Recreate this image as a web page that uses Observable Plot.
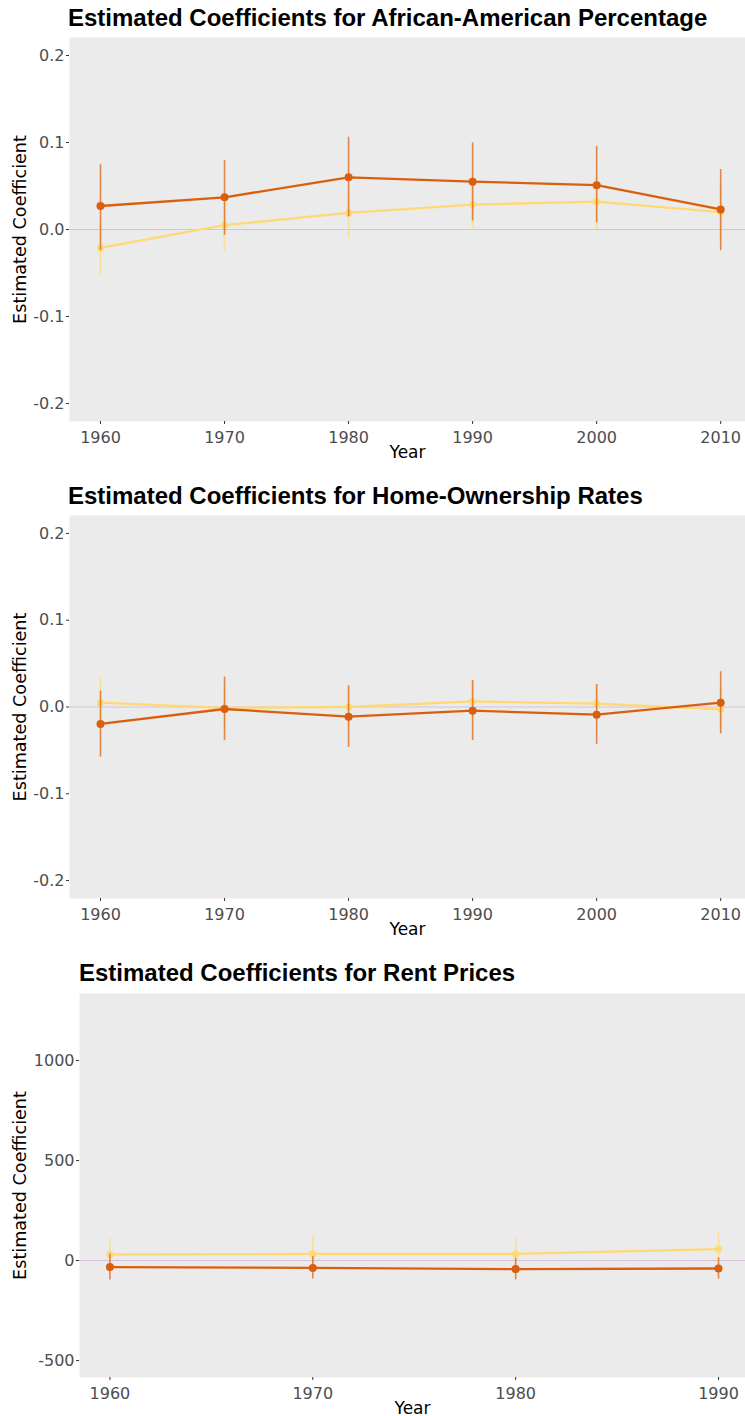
<!DOCTYPE html>
<html>
<head>
<meta charset="utf-8">
<script src="https://cdn.jsdelivr.net/npm/d3@7"></script>
<script src="https://cdn.jsdelivr.net/npm/@observablehq/plot@0.6"></script>
<style>
  html, body { margin: 0; padding: 0; background: #ffffff; font-family: "DejaVu Sans", sans-serif; }
  #wrap { width: 745px; }
  .title { font-family: "Liberation Sans", Arial, sans-serif; font-weight: bold; font-size: 24px; color: #000; box-sizing: border-box; white-space: nowrap; }
  svg { display: block; }
  svg, svg text { font-family: "DejaVu Sans", sans-serif !important; }
</style>
</head>
<body>
<div id="wrap"></div>
<script>
// ---------- data ----------
const years6 = [1960, 1970, 1980, 1990, 2000, 2010];
const years4 = [1960, 1970, 1980, 1990];

// Panel 1: African-American Percentage
const aaDarkEst  = [0.027, 0.037, 0.060, 0.055, 0.051, 0.023];
const aaDarkLo   = [-0.024, -0.0065, 0.0146, 0.0099, 0.0076, -0.0244];
const aaDarkHi   = [0.0744, 0.0794, 0.106, 0.0996, 0.0954, 0.069];
const aaLightEst = [-0.021, 0.005, 0.019, 0.0286, 0.032, 0.020];
const aaLightLo  = [-0.0527, -0.0244, -0.0095, -0.0008, 0.0, -0.010];
const aaLightHi  = [0.0107, 0.034, 0.0475, 0.058, 0.064, 0.050];

// Panel 2: Home-Ownership Rates
const hoDarkEst  = [-0.0195, -0.0023, -0.0111, -0.0042, -0.0088, 0.005];
const hoDarkLo   = [-0.0579, -0.0387, -0.0467, -0.0387, -0.043, -0.031];
const hoDarkHi   = [0.0184, 0.0345, 0.0245, 0.0307, 0.026, 0.0406];
const hoLightEst = [0.005, -0.001, 0.0, 0.0065, 0.0038, -0.0027];
const hoLightLo  = [-0.025, -0.026, -0.022, -0.0165, -0.018, -0.0277];
const hoLightHi  = [0.0349, 0.024, 0.022, 0.0295, 0.0258, 0.0223];

// Panel 3: Rent Prices
const rpDarkEst  = [-33, -37, -43, -40];
const rpDarkLo   = [-97, -93, -97, -93];
const rpDarkHi   = [31, 19, 11, 13];
const rpLightEst = [30, 33, 33, 57];
const rpLightLo  = [-48, -56, -47, -28];
const rpLightHi  = [108, 122, 113, 142];

const titles = [
  "Estimated Coefficients for African-American Percentage",
  "Estimated Coefficients for Home-Ownership Rates",
  "Estimated Coefficients for Rent Prices"
];
const yTicks12 = [-0.2, -0.1, 0, 0.1, 0.2];
const yTicks3 = [-500, 0, 500, 1000];

const DARK = "#D95F0E";
const LIGHT = "#FED976";

function rows(years, est, lo, hi) {
  return years.map((y, i) => ({year: y, est: est[i], lo: lo[i], hi: hi[i]}));
}

function panel({years, dark, light, xDomain, yDomain, yTicks, yFmt, marginLeft, height, marginBottom}) {
  const seriesMarks = (data, color, r) => [
    Plot.ruleX(data, {x: "year", y1: "lo", y2: "hi", stroke: color, strokeWidth: 1.6, strokeOpacity: 0.72}),
    Plot.line(data, {x: "year", y: "est", stroke: color, strokeWidth: 2.3}),
    Plot.dot(data, {x: "year", y: "est", fill: color, r: r})
  ];
  return Plot.plot({
    width: 745,
    height: height,
    marginTop: 0,
    marginRight: 0,
    marginLeft: marginLeft,
    marginBottom: marginBottom,
    style: {fontFamily: "'DejaVu Sans', sans-serif", background: "#ffffff", overflow: "visible"},
    x: {domain: xDomain},
    y: {domain: yDomain},
    marks: [
      Plot.frame({fill: "#EBEBEB", stroke: null}),
      Plot.ruleY([0], {stroke: "#D6C3DA", strokeWidth: 1.2}),
      ...seriesMarks(light, LIGHT, 3.6),
      ...seriesMarks(dark, DARK, 4),
      Plot.axisX({ticks: years, tickFormat: d => String(d), tickSize: 3, tickPadding: 7, fontSize: 16, fill: "#4D4D4D", stroke: "#333333", label: null}),
      Plot.axisY({ticks: yTicks, tickFormat: yFmt, tickSize: 3, tickPadding: 2, fontSize: 16, fill: "#4D4D4D", stroke: "#333333", label: null}),
      Plot.text(["Year"], {frameAnchor: "bottom", dy: 36, fontSize: 17, fill: "#000"}),
      Plot.text(["Estimated Coefficient"], {frameAnchor: "left", textAnchor: "middle", lineAnchor: "middle", dx: -(marginLeft - 20), rotate: -90, fontSize: 17.6, fill: "#000"})
    ]
  });
}

const wrap = document.getElementById("wrap");
function addTitle(text, h, pad, left) {
  const d = document.createElement("div");
  d.className = "title";
  d.style.height = h + "px";
  d.style.paddingTop = pad + "px";
  d.style.paddingLeft = left + "px";
  d.style.lineHeight = "26px";
  d.textContent = text;
  wrap.appendChild(d);
}

addTitle(titles[0], 37, 5, 68);
wrap.appendChild(panel({
  years: years6,
  dark: rows(years6, aaDarkEst, aaDarkLo, aaDarkHi),
  light: rows(years6, aaLightEst, aaLightLo, aaLightHi),
  xDomain: [1957.5, 2012.0], yDomain: [-0.2207, 0.2207],
  yTicks: yTicks12, yFmt: d => d.toFixed(1),
  marginLeft: 69, height: 433, marginBottom: 49
}));

addTitle(titles[1], 45, 13, 68);
wrap.appendChild(panel({
  years: years6,
  dark: rows(years6, hoDarkEst, hoDarkLo, hoDarkHi),
  light: rows(years6, hoLightEst, hoLightLo, hoLightHi),
  xDomain: [1957.5, 2012.0], yDomain: [-0.2207, 0.2207],
  yTicks: yTicks12, yFmt: d => d.toFixed(1),
  marginLeft: 69, height: 432, marginBottom: 49
}));

addTitle(titles[2], 46, 13, 79);
wrap.appendChild(panel({
  years: years4,
  dark: rows(years4, rpDarkEst, rpDarkLo, rpDarkHi),
  light: rows(years4, rpLightEst, rpLightLo, rpLightHi),
  xDomain: [1958.5, 1991.33], yDomain: [-585, 1335],
  yTicks: yTicks3, yFmt: d => String(d),
  marginLeft: 79, height: 423, marginBottom: 39
}));
</script>
</body>
</html>
